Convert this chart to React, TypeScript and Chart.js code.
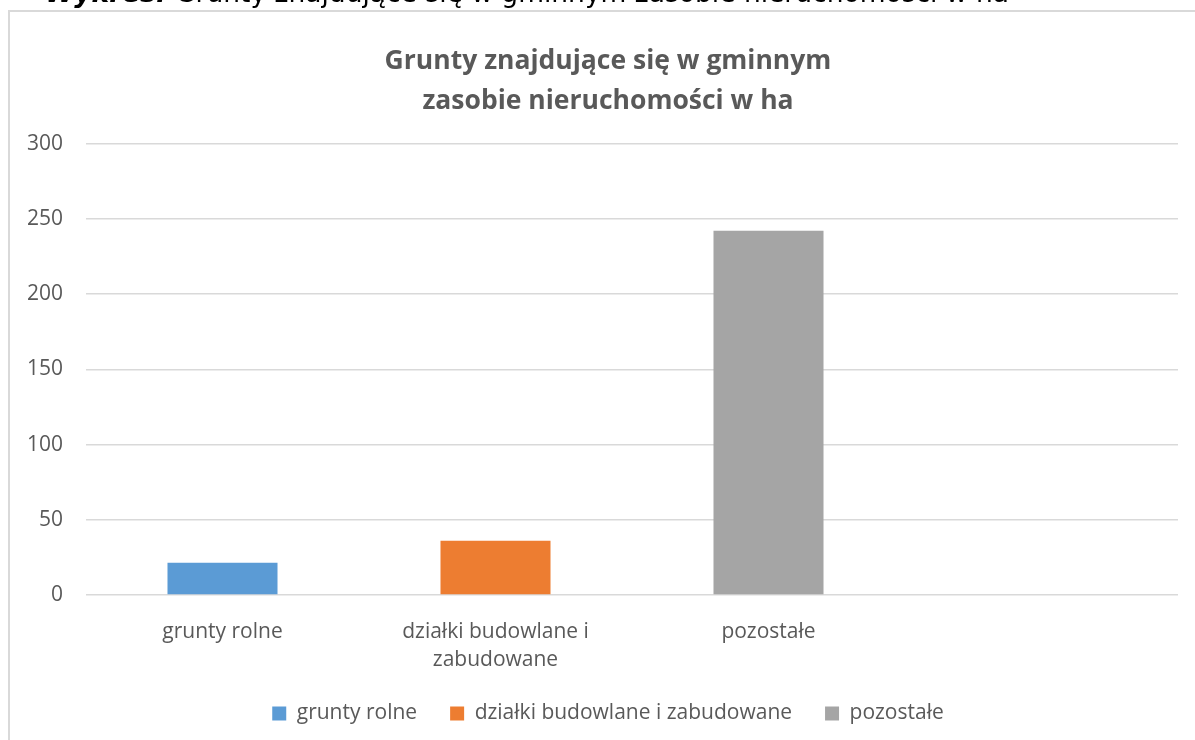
import React, { useEffect, useRef } from "react";
import { Chart, registerables } from "chart.js";

Chart.register(...registerables);

const categories: (string | string[])[] = [
  "grunty rolne",
  ["działki budowlane i", "zabudowane"],
  "pozostałe",
  "",
];
const seriesNames = ["grunty rolne", "działki budowlane i zabudowane", "pozostałe"];
const gruntyRolne = [21.5, null, null, null];
const dzialki = [null, 36, null, null];
const pozostale = [null, null, 242, null];
const colors = ["#5B9BD5", "#ED7D31", "#A5A5A5"];
const yTicks = [0, 50, 100, 150, 200, 250, 300];

const FONT = "'Open Sans', sans-serif";
const TEXT = "#595959";

export default function App() {
  const ref = useRef<HTMLCanvasElement | null>(null);

  useEffect(() => {
    if (!ref.current) return;
    const chart = new Chart(ref.current, {
      type: "bar",
      data: {
        labels: categories,
        datasets: [
          { label: seriesNames[0], data: gruntyRolne, backgroundColor: colors[0] },
          { label: seriesNames[1], data: dzialki, backgroundColor: colors[1] },
          { label: seriesNames[2], data: pozostale, backgroundColor: colors[2] },
        ],
      },
      options: {
        animation: false,
        responsive: false,
        skipNull: true,
        datasets: { bar: { categoryPercentage: 1, barPercentage: 0.403 } },
        layout: { padding: { left: 0, right: 0, top: 0, bottom: 7 } },
        plugins: {
          title: {
            display: true,
            text: ["Grunty znajdujące się w gminnym", "zasobie nieruchomości w ha"],
            color: TEXT,
            font: { family: FONT, size: 26.5, weight: "bold", lineHeight: 1.52 },
            padding: { top: 29, bottom: 22 },
          },
          legend: {
            position: "bottom",
            labels: {
              color: TEXT,
              font: { family: FONT, size: 21 },
              boxWidth: 14,
              boxHeight: 14,
              padding: 33,
            },
          },
          tooltip: { enabled: false },
        },
        scales: {
          x: {
            afterFit: (s: any) => {
              s.height = 75;
            },
            grid: { display: false, drawTicks: false },
            border: { display: false },
            ticks: {
              color: TEXT,
              font: { family: FONT, size: 21, lineHeight: 1.33 },
              padding: 23,
              maxRotation: 0,
              autoSkip: false,
            },
          },
          y: {
            min: 0,
            max: 300,
            afterFit: (s: any) => {
              s.width = 76;
            },
            afterBuildTicks: (s: any) => {
              s.ticks = yTicks.map((v) => ({ value: v }));
            },
            grid: { color: "#D9D9D9", lineWidth: 1.5, drawTicks: false },
            border: { display: false },
            ticks: {
              color: TEXT,
              font: { family: FONT, size: 21 },
              padding: 23,
            },
          },
          yRight: {
            type: "linear",
            position: "right",
            min: 0,
            max: 1,
            afterFit: (s: any) => {
              s.width = 28;
            },
            grid: { display: false, drawTicks: false },
            border: { display: false },
            ticks: { display: false },
          },
        },
      },
    });
    return () => chart.destroy();
  }, []);

  return (
    <div>
      <div
        style={{
          position: "fixed",
          left: 45,
          top: -20,
          whiteSpace: "nowrap",
          fontFamily: "'DejaVu Sans', sans-serif",
          fontSize: 26.5,
          lineHeight: "26px",
          color: "#000",
        }}
      >
        <b>
          <i>Wykres:</i>
        </b>{" "}
        Grunty znajdujące się w gminnym zasobie nieruchomości w ha
      </div>
      <div
        style={{
          position: "fixed",
          left: 8,
          top: 10,
          width: 1200,
          height: 740,
          border: "2px solid #D9D9D9",
          background: "#fff",
          boxSizing: "border-box",
        }}
      >
        <canvas ref={ref} width={1196} height={729} style={{ display: "block" }} />
      </div>
    </div>
  );
}
